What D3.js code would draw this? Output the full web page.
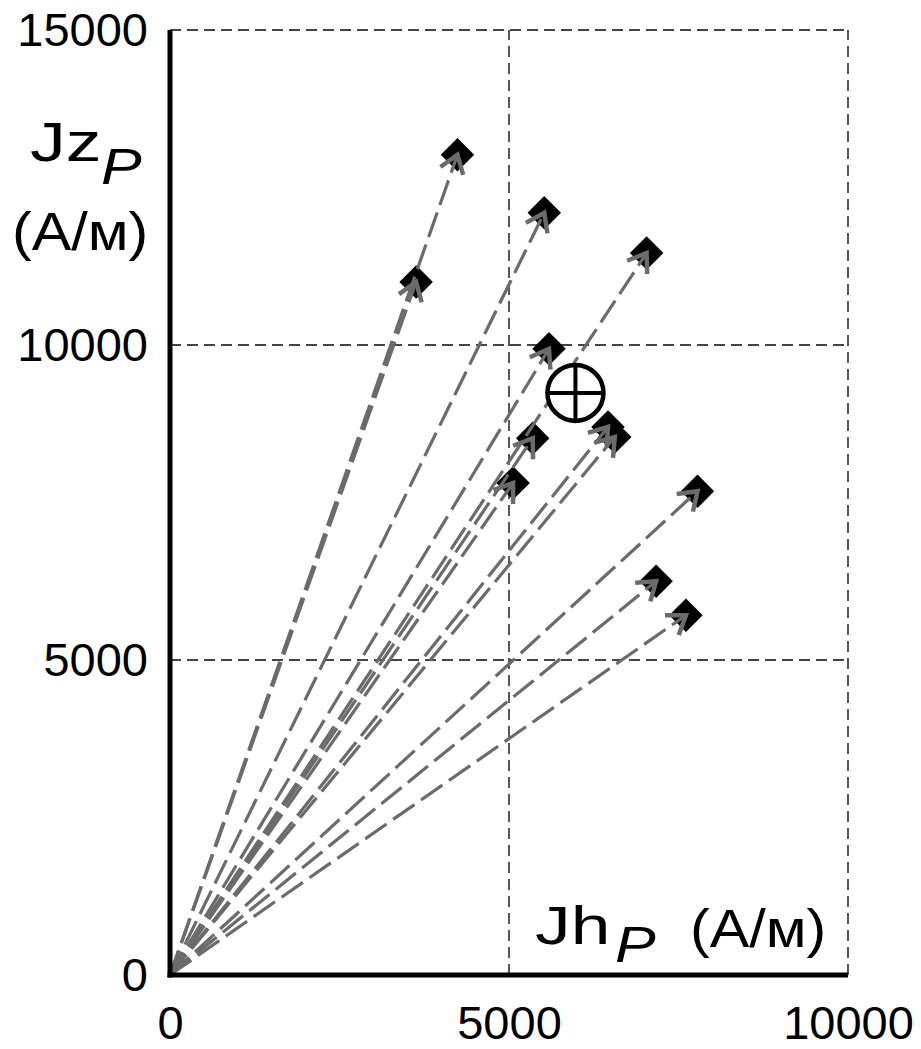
<!DOCTYPE html>
<html>
<head>
<meta charset="utf-8">
<script src="https://cdn.jsdelivr.net/npm/d3@7"></script>
<style>
  body { margin: 0; background: #fff; }
  svg { display: block; font-family: "Liberation Sans", Arial, sans-serif; }
</style>
</head>
<body>
<div id="chart"></div>
<script>
// vector ends (Jh, Jz), A/m
const jhValues = [4240, 3630, 5520, 7030, 5590, 5350, 5060, 6460, 6560, 7780, 7170, 7610];
const jzValues = [13020, 11000, 12100, 11460, 9940, 8520, 7810, 8700, 8540, 7680, 6250, 5710];
// mean vector
const meanJh = [5980];
const meanJz = [9240];

const xTicks = [0, 5000, 10000];
const yTicks = [0, 5000, 10000, 15000];

const width = 921, height = 1049;
const margin = {top: 30, right: 73, bottom: 74, left: 170};

const svg = d3.select("#chart").append("svg")
    .attr("width", width)
    .attr("height", height);

const x = d3.scaleLinear().domain([0, 10000]).range([margin.left, width - margin.right]);
const y = d3.scaleLinear().domain([0, 15000]).range([height - margin.bottom, margin.top]);

// arrow head
svg.append("defs").append("marker")
    .attr("id", "head")
    .attr("markerUnits", "userSpaceOnUse")
    .attr("viewBox", "-22 -16 26 32")
    .attr("refX", 0).attr("refY", 0)
    .attr("markerWidth", 26).attr("markerHeight", 32)
    .attr("orient", "auto")
    .append("path")
    .attr("d", "M-17.2,-12L0,0L-17.2,12")
    .attr("fill", "none")
    .attr("stroke", "#6b6b6b")
    .attr("stroke-width", 4.5);

// dashed grid
const grid = svg.append("g");
grid.selectAll(".vgrid")
    .data(xTicks.slice(1))
    .enter().append("line")
    .attr("x1", d => x(d)).attr("x2", d => x(d))
    .attr("y1", y(0)).attr("y2", y(15000));
grid.selectAll(".hgrid")
    .data(yTicks.slice(1))
    .enter().append("line")
    .attr("x1", x(0)).attr("x2", x(10000))
    .attr("y1", d => y(d)).attr("y2", d => y(d));
grid.selectAll("line")
    .attr("stroke", "#444")
    .attr("stroke-width", 1.8)
    .attr("stroke-dasharray", "11,6");

const pts = jhValues.map((d, i) => ({jh: d, jz: jzValues[i]}));

// markers
svg.append("g").selectAll("path")
    .data(pts)
    .enter().append("path")
    .attr("d", d3.symbol(d3.symbolSquare).size(560))
    .attr("transform", d => "translate(" + x(d.jh) + "," + y(d.jz) + ") rotate(45)")
    .attr("fill", "#000");

// vectors from origin
svg.append("g").selectAll("line")
    .data(pts)
    .enter().append("line")
    .attr("x1", x(0)).attr("y1", y(0))
    .attr("x2", d => x(d.jh)).attr("y2", d => y(d.jz))
    .attr("stroke", "#6b6b6b")
    .attr("stroke-width", 3.2)
    .attr("stroke-dasharray", "26,8")
    .attr("marker-end", "url(#head)");

// mean: circle with cross
const mean = svg.append("g")
    .attr("transform", "translate(" + x(meanJh[0]) + "," + y(meanJz[0]) + ")");
mean.append("circle")
    .attr("r", 28)
    .attr("fill", "#fff")
    .attr("stroke", "#000")
    .attr("stroke-width", 4.5);
mean.append("line").attr("x1", -28).attr("x2", 28).attr("stroke", "#000").attr("stroke-width", 4);
mean.append("line").attr("y1", -28).attr("y2", 28).attr("stroke", "#000").attr("stroke-width", 4);

// axes
const yAxis = svg.append("g")
    .attr("transform", "translate(" + margin.left + ",0)")
    .call(d3.axisLeft(y).tickValues(yTicks).tickFormat(d3.format("d")).tickSize(0).tickPadding(22));
const xAxis = svg.append("g")
    .attr("transform", "translate(0," + y(0) + ")")
    .call(d3.axisBottom(x).tickValues(xTicks).tickFormat(d3.format("d")).tickSize(0).tickPadding(31));
[xAxis, yAxis].forEach(a => {
    a.select(".domain").remove();
    a.selectAll("text")
        .attr("fill", "#000")
        .style("font-size", "47px")
        .style("font-family", "'Liberation Sans', Arial, sans-serif");
});

svg.append("line")
    .attr("x1", x(0)).attr("x2", x(0))
    .attr("y1", y(15000)).attr("y2", y(0) + 2.5)
    .attr("stroke", "#000").attr("stroke-width", 5);
svg.append("line")
    .attr("x1", x(0) - 2.5).attr("x2", x(10000))
    .attr("y1", y(0)).attr("y2", y(0))
    .attr("stroke", "#000").attr("stroke-width", 5);

// axis titles (glyphs in the source are drawn wide)
function label(tx, ty, sx, size, txt, italic) {
    svg.append("text")
        .attr("transform", "translate(" + tx + "," + ty + ") scale(" + sx + ",1)")
        .attr("fill", "#000")
        .style("font-size", size + "px")
        .style("font-style", italic ? "italic" : "normal")
        .text(txt);
}
label(30, 161, 1.3, 55, "Jz");
label(101, 184, 1.22, 50, "P", true);
label(12, 250, 1.12, 53, "(A/м)");

label(535, 944, 1.32, 54, "Jh");
label(615, 962, 1.22, 50, "P", true);
label(690, 947, 1.12, 53, "(A/м)");
</script>
</body>
</html>
